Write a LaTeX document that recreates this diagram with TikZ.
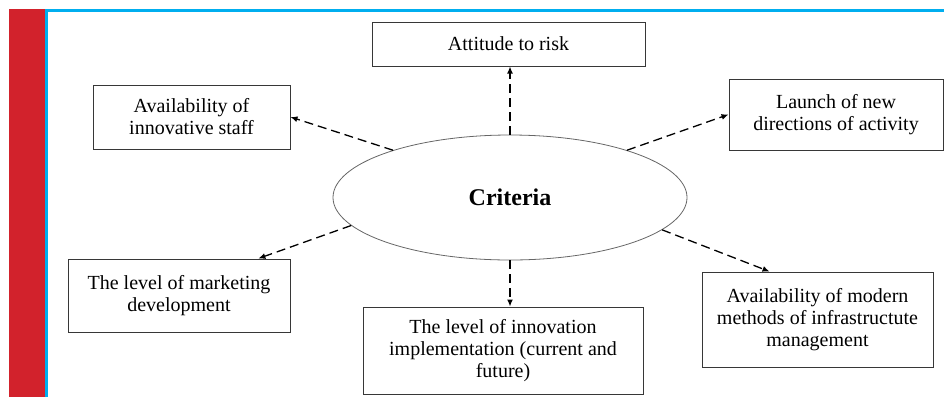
\documentclass[tikz,border=0pt]{standalone}
\usepackage{fontspec}
\setmainfont{Liberation Serif}
\usetikzlibrary{arrows.meta,shapes.geometric}
\definecolor{framered}{RGB}{210,34,44}
\definecolor{frameblue}{RGB}{0,174,239}
\definecolor{boxgray}{RGB}{55,55,55}

\tikzset{
  critbox/.style={draw=boxgray, line width=1pt, align=center, inner sep=0pt,
    font=\fontsize{20}{22}\selectfont},
  critarrow/.style={-{Latex[length=7pt,width=6pt]}, line width=1.3pt,
    dash pattern=on 9pt off 5pt}
}

\begin{document}
\begin{tikzpicture}[x=1pt,y=-1pt]
  \useasboundingbox (0,0) rectangle (944,397);

  % Frame
  \fill[framered] (9,9.3) rectangle (45,397);
  \draw[frameblue, line width=2.6pt] (46.7,397) -- (46.7,10.7) -- (944,10.7);

  % Centre
  \node[draw=gray!80!black, line width=0.8pt, ellipse, inner sep=0pt,
    minimum width=354pt, minimum height=125pt,
    font=\fontsize{24}{28}\selectfont\bfseries] (criteria) at (510,197.5) {Criteria};

  % Boxes
  \node[critbox, minimum width=273pt, minimum height=44pt] (risk) at (508.5,44) {Attitude to risk};
  \node[critbox, minimum width=197pt, minimum height=64pt] (staff) at (191.5,117) {Availability of\\innovative staff};
  \node[critbox, minimum width=214pt, minimum height=71pt] (launch) at (836,114.5) {Launch of new\\directions of activity};
  \node[critbox, minimum width=222pt, minimum height=73pt] (marketing) at (179,295.5) {The level of marketing\\development};
  \node[critbox, minimum width=280pt, minimum height=87pt] (innovation) at (503,350.5) {The level of innovation\\implementation (current and\\future)};
  \node[critbox, minimum width=231pt, minimum height=95pt] (infra) at (817.5,319.5) {Availability of modern\\methods of infrastructute\\management};

  % Arrows
  \draw[critarrow] (criteria.north) -- (criteria.north |- risk.south);
  \draw[critarrow] (criteria.158) -- (staff.east);
  \draw[critarrow] (criteria.22) -- (launch.west);
  \draw[critarrow] (criteria.190) -- (marketing.25);
  \draw[critarrow] (criteria.south) -- (criteria.south |- innovation.north);
  \draw[critarrow] (criteria.348) -- (infra.135);
\end{tikzpicture}
\end{document}
